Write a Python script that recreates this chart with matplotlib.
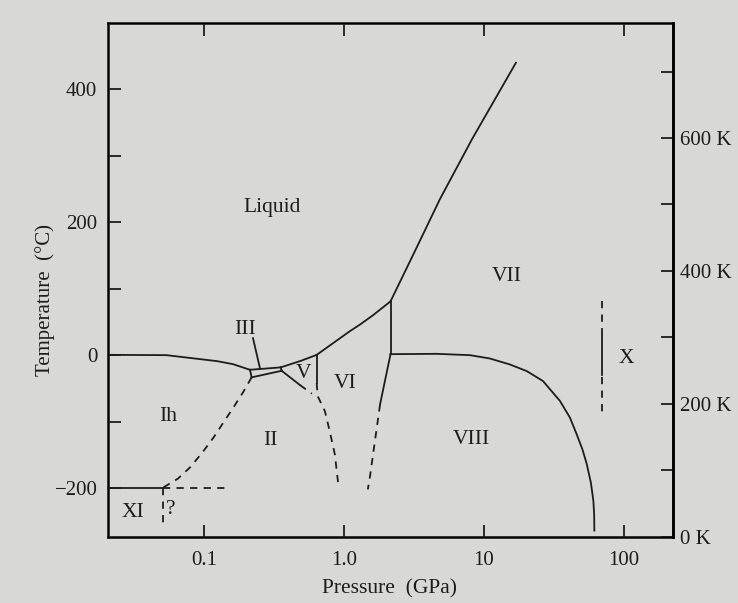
import matplotlib.pyplot as plt
from matplotlib.ticker import NullLocator

plt.rcParams['font.family'] = ['Liberation Serif', 'DejaVu Serif']

# phase boundaries of ice: pressure (GPa), temperature (degC)
ih_liq_p = [0.0208, 0.054, 0.124, 0.161, 0.213]
ih_liq_t = [0.5, 0.0, -9, -13.5, -22]
iii_liq_p = [0.213, 0.353]
iii_liq_t = [-22, -18.4]
ih_iii_p = [0.213, 0.219]
ih_iii_t = [-22, -33.4]
ii_iii_p = [0.219, 0.359]
ii_iii_t = [-33.4, -23.5]
iii_v_p = [0.353, 0.359]
iii_v_t = [-18.4, -23.5]
v_liq_p = [0.353, 0.485, 0.638]
v_liq_t = [-18.4, -9, 0.4]
vi_liq_p = [0.638, 1.10, 1.30, 1.61, 2.15]
vi_liq_t = [0.4, 36, 46, 60, 81]
vii_liq_p = [2.15, 3.27, 4.85, 8.21, 16.9]
vii_liq_t = [81, 160, 235, 325, 440]
v_vi_p = [0.638, 0.638]
v_vi_t = [0.4, -42]
ii_v_p = [0.359, 0.485]
ii_v_t = [-23.5, -45]
ii_v_dash_p = [0.485, 0.59]
ii_v_dash_t = [-45, -58]
ii_vi_p = [0.638, 0.65, 0.73, 0.79, 0.86, 0.91]
ii_vi_t = [-42, -62, -84, -114, -149, -194]
vi_vii_p = [2.15, 2.15]
vi_vii_t = [81, 1.5]
vi_viii_p = [2.15, 1.81]
vi_viii_t = [1.5, -74]
vi_viii_dash_p = [1.81, 1.53, 1.48]
vi_viii_dash_t = [-74, -184, -202]
vii_viii_p = [2.15, 4.59, 7.94, 11.0, 15.3, 20.2, 26.4, 34.9, 41.1,
              45.9, 50.5, 54.2, 58.0, 60.4, 61.2, 61.4]
vii_viii_t = [1.5, 2.0, 0.0, -5, -14, -24, -39, -69, -94,
              -119, -142, -164, -192, -219, -240, -264]
ih_ii_p = [0.219, 0.19, 0.162, 0.138, 0.117, 0.097, 0.0794, 0.065, 0.0513]
ih_ii_t = [-33.4, -56, -79, -101, -124, -147, -169, -186, -199]
xi_p = [0.0208, 0.0513]
xi_t = [-200, -200]
xi_dash_p = [0.0513, 0.141]
xi_dash_t = [-200, -200]
xi_vert_p = [0.0513, 0.0513]
xi_vert_t = [-200, -255]
x_top_p = [70.0, 70.0]
x_top_t = [81, 38]
x_mid_p = [70.0, 70.0]
x_mid_t = [36, -30]
x_bot_p = [70.0, 70.0]
x_bot_t = [-33, -91]

phase_names = ['Liquid', 'Ih', 'II', 'III', 'V', 'VI', 'VII', 'VIII', 'X', 'XI', '?']
phase_p = [0.306, 0.0556, 0.296, 0.196, 0.512, 1.016, 14.5, 8.17, 104.5, 0.0313, 0.0581]
phase_t = [222, -92, -129, 38, -27, -42, 118, -127, -4.5, -237, -233]

iii_pointer_p = [0.224, 0.251]
iii_pointer_t = [25.5, -19.5]

p_ticks = [0.1, 1, 10, 100]
p_labels = ['0.1', '1.0', '10', '100']
t_ticks = [-200, -100, 0, 100, 200, 300, 400]
t_labels = ['\u2212200', '', '0', '', '200', '', '400']
k_ticks = [0, 100, 200, 300, 400, 500, 600, 700]
k_labels = ['0 K', '', '200 K', '', '400 K', '', '600 K', '']

bg = '#d8d8d6'
ink = '#1c1c1c'

fig = plt.figure(figsize=(7.38, 6.03), dpi=100, facecolor=bg)
ax = fig.add_axes([0.147, 0.11, 0.765, 0.852])
ax.set_facecolor(bg)

lw = 1.3
dash = (0, (4, 3.5))
solid_lines = [(ih_liq_p, ih_liq_t), (iii_liq_p, iii_liq_t), (ih_iii_p, ih_iii_t),
               (ii_iii_p, ii_iii_t), (iii_v_p, iii_v_t), (v_liq_p, v_liq_t),
               (vi_liq_p, vi_liq_t), (vii_liq_p, vii_liq_t), (v_vi_p, v_vi_t),
               (ii_v_p, ii_v_t), (vi_vii_p, vi_vii_t), (vi_viii_p, vi_viii_t),
               (vii_viii_p, vii_viii_t), (xi_p, xi_t), (x_mid_p, x_mid_t),
               (iii_pointer_p, iii_pointer_t)]
dashed_lines = [(ii_v_dash_p, ii_v_dash_t), (ii_vi_p, ii_vi_t),
                (vi_viii_dash_p, vi_viii_dash_t), (ih_ii_p, ih_ii_t),
                (xi_dash_p, xi_dash_t), (xi_vert_p, xi_vert_t),
                (x_top_p, x_top_t), (x_bot_p, x_bot_t)]
for p, t in solid_lines:
    ax.plot(p, t, color=ink, lw=lw, solid_joinstyle='round')
for p, t in dashed_lines:
    ax.plot(p, t, color=ink, lw=lw, linestyle=dash)

for name, p, t in zip(phase_names, phase_p, phase_t):
    ax.text(p, t, name, ha='center', va='center', fontsize=15.5, color=ink)

ax.set_xscale('log')
ax.set_xlim(0.0208, 224)
ax.set_ylim(-273.15, 500)
ax.set_xticks(p_ticks)
ax.set_xticklabels(p_labels)
ax.xaxis.set_minor_locator(NullLocator())
ax.set_yticks(t_ticks)
ax.set_yticklabels(t_labels)
ax.tick_params(direction='in', length=9, width=1.3, labelsize=15,
               top=True, colors=ink)
ax.tick_params(axis='y', pad=8)
ax.tick_params(axis='x', pad=10)
for s in ax.spines.values():
    s.set_linewidth(1.9)
    s.set_color(ink)

ax.set_xlabel('Pressure  (GPa)', fontsize=15.5, color=ink)
ax.set_ylabel('Temperature  (\u00b0C)', fontsize=15, color=ink)
ax.xaxis.set_label_coords(0.497, -0.082)
ax.yaxis.set_label_coords(-0.095, 0.46)

axk = ax.twinx()
axk.set_ylim(0, 773.15)
axk.set_yticks(k_ticks)
axk.set_yticklabels(k_labels)
axk.tick_params(direction='in', length=9, width=1.3, labelsize=15, pad=5,
                colors=ink)
axk.spines['right'].set_linewidth(1.9)

fig.savefig('out.png', dpi=100, facecolor=bg)
